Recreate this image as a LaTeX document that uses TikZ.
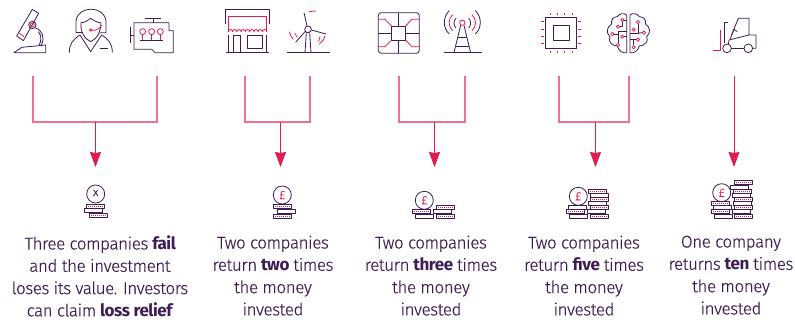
\documentclass[tikz,border=0pt]{standalone}
\usepackage{fontspec}
\setmainfont{Fira Sans}[UprightFont=*-Light,UprightFeatures={FakeBold=.2},BoldFont=*-Bold,LetterSpace=-2.5]
\usetikzlibrary{arrows.meta, positioning, calc}
\definecolor{plum}{RGB}{62,28,84}
\definecolor{rosso}{RGB}{227,28,79}
\definecolor{rosa}{RGB}{240,112,142}
\tikzset{
  icon/.style={draw=plum, line width=.8pt, line join=round},
  hot/.style={draw=rosso, line width=.8pt, line join=round},
  link/.style={draw=rosa, line width=1.3pt},
  stem/.style={draw=rosso, line width=.9pt, -{Stealth[length=15pt,width=11pt,inset=1pt]}},
  caption/.style={text=plum, align=center, anchor=north, inner sep=0pt, font=\fontsize{17}{22.3}\selectfont},
  zoomed/.style={x=.3333pt, y=-.3333pt},
  redbar/.pic={\draw[icon] (-9,-2) rectangle (9,2); \draw[hot, line width=.7pt, dash pattern=on .9pt off 1.1pt] (-7.5,0) -- (7.5,0);},
  plainbar/.pic={\draw[icon] (-9,-2) rectangle (9,2);},
  coin/.pic={\draw[icon] (0,0) circle (9);},
  sign/.style={text=rosso, font=\fontsize{12}{12}\selectfont}
}
\begin{document}
\begin{tikzpicture}[x=1pt, y=-1pt]
\useasboundingbox (0,0) rectangle (795,320);

\coordinate (L1) at (33,76);
\coordinate (R1) at (157,76);
\coordinate (J1) at (95.5,122);
\coordinate (A1) at (95.5,167);
\coordinate (L2) at (245,76);
\coordinate (R2) at (310,76);
\coordinate (J2) at (280.5,122);
\coordinate (A2) at (280.5,167);
\coordinate (L3) at (399,76);
\coordinate (R3) at (465,76);
\coordinate (J3) at (434.5,122);
\coordinate (A3) at (434.5,167);
\coordinate (L4) at (559,76);
\coordinate (R4) at (629,76);
\coordinate (J4) at (595.5,122);
\coordinate (A4) at (595.5,167);
\coordinate (J5) at (734,76);
\coordinate (A5) at (734,167);

\draw[link] (L1) |- (J1) -| (R1);
\draw[link] (L2) |- (J2) -| (R2);
\draw[link] (L3) |- (J3) -| (R3);
\draw[link] (L4) |- (J4) -| (R4);
\draw[stem] (J1) -- (A1);
\draw[stem] (J2) -- (A2);
\draw[stem] (J3) -- (A3);
\draw[stem] (J4) -- (A4);
\draw[stem] (J5) -- (A5);

\begin{scope}[zoomed]
\draw[icon] (97,28) -- (116,40) -- (70,122) -- (50,108) -- cycle;
\draw[hot] (58,100) -- (72,110);
\draw[hot] (97,75) circle (6);
\draw[icon] (97,75) circle (11);
\draw[icon] (106,84) .. controls (128,90) and (135,115) .. (124,135);
\draw[icon] (115,95) .. controls (124,105) and (125,120) .. (118,135);
\draw[icon] (42,158) -- (65,142) -- (137,135) -- (137,158) -- cycle;
\draw[icon] (228,98) -- (228,65) .. controls (230,15) and (316,15) .. (318,65) -- (318,98) -- (300,98);
\draw[icon] (228,98) -- (246,98);
\draw[icon] (243,68) .. controls (255,68) and (262,62) .. (272,55) .. controls (282,62) and (292,68) .. (302,68);
\draw[icon] (243,68) .. controls (240,95) and (255,118) .. (272,125) .. controls (290,118) and (304,95) .. (302,68);
\draw[icon] (208,158) .. controls (208,130) and (220,118) .. (240,105) -- (272,155) -- (305,105) .. controls (325,118) and (337,130) .. (337,158);
\draw[icon] (300,145) -- (325,145);
\draw[hot] (272,90) circle (4);
\draw[hot] (276,91) .. controls (290,92) and (300,85) .. (305,75);
\draw[icon] (402,68) -- (507,68) -- (507,92) -- (520,92) -- (520,158) -- (465,158) -- (455,148) -- (402,148) -- cycle;
\draw[icon] (435,55) -- (483,55);
\draw[icon] (459,55) -- (459,68);
\draw[icon] (390,80) -- (390,130);
\draw[icon] (390,105) -- (402,105);
\draw[icon] (420,120) -- (490,120);
\draw[hot] (428,95) circle (9);
\draw[hot] (455,95) circle (9);
\draw[hot] (481,95) circle (9);
\draw[hot] (428,104) -- (428,120);
\draw[hot] (455,104) -- (455,120);
\draw[hot] (481,104) -- (481,120);
\end{scope}

\begin{scope}[shift={(210,0)}, zoomed]
\draw[icon] (47,72) -- (47,28) -- (178,28) -- (178,72);
\draw[hot] (55,95) -- (55,50) -- (170,50) -- (170,95);
\draw[hot] (55,95) arc (180:360:6.4) arc (180:360:6.4) arc (180:360:6.4) arc (180:360:6.4) arc (180:360:6.4) arc (180:360:6.4) arc (180:360:6.4) arc (180:360:6.4) arc (180:360:6.4);
\draw[icon] (55,105) -- (55,158);
\draw[icon] (170,105) -- (170,158);
\draw[icon] (70,158) -- (70,106) -- (90,106) -- (90,158);
\draw[icon] (112,107) rectangle (157,145);
\draw[icon] (48,158) -- (178,158);
\draw[icon] (230,158) -- (360,158);
\draw[icon] (294,88) circle (10);
\draw[icon] (289,97) -- (285,158);
\draw[icon] (299,97) -- (303,158);
\draw[icon] (291,78) -- (282,38);
\draw[icon] (304,90) -- (348,102);
\draw[icon] (286,94) -- (257,127);
\draw[hot] (296,36) .. controls (303,34) and (310,33) .. (318,33);
\draw[hot] (238,95) .. controls (240,104) and (244,112) .. (250,118);
\draw[hot] (255,100) -- (262,112);
\draw[hot] (345,108) .. controls (343,118) and (336,127) .. (328,132);
\draw[hot] (330,110) -- (326,125);
\draw[icon, rounded corners=3pt] (505,38) rectangle (628,160);
\draw[icon] (545,78) rectangle (587,120);
\draw[icon] (566,38) -- (566,78);
\draw[icon] (566,120) -- (566,160);
\draw[icon] (505,100) -- (545,100);
\draw[icon] (587,100) -- (628,100);
\draw[hot] (505,58) -- (525,58) -- (545,78);
\draw[hot] (628,58) -- (605,58) -- (587,78);
\draw[hot] (505,140) -- (525,140) -- (545,120);
\draw[hot] (628,140) -- (605,140) -- (587,120);
\draw[hot] (757,68) circle (8);
\draw[icon] (752,76) -- (732,158);
\draw[icon] (762,76) -- (782,158);
\draw[icon] (745,112) -- (770,112);
\draw[icon] (738,140) -- (776,140);
\draw[icon] (702,158) -- (815,158);
\draw[icon] (718,32) .. controls (698,50) and (698,85) .. (718,102);
\draw[hot] (728,44) .. controls (714,56) and (714,80) .. (728,92);
\draw[icon] (738,55) .. controls (730,62) and (730,76) .. (738,84);
\draw[icon] (796,32) .. controls (816,50) and (816,85) .. (796,102);
\draw[hot] (786,44) .. controls (800,56) and (800,80) .. (786,92);
\draw[icon] (776,55) .. controls (784,62) and (784,76) .. (776,84);
\end{scope}

\begin{scope}[shift={(530,0)}, zoomed]
\draw[icon] (46,53) rectangle (138,145);
\draw[icon] (69,75) rectangle (117,121);
\foreach \t in {60,82,104,126} {
  \draw[hot] (\t,38) -- (\t,46);
  \draw[hot] (\t,152) -- (\t,160);
}
\foreach \t in {65,87,109,131} {
  \draw[hot] (32,\t) -- (41,\t);
  \draw[hot] (145,\t) -- (154,\t);
}
\draw[icon] (290,158) -- (290,45) .. controls (282,38) and (268,40) .. (262,50) .. controls (250,50) and (242,60) .. (245,72) .. controls (232,80) and (226,98) .. (240,110) .. controls (232,125) and (248,138) .. (262,138) .. controls (265,152) and (280,162) .. (290,158);
\draw[icon] (300,158) -- (300,45) .. controls (308,38) and (322,40) .. (328,50) .. controls (340,50) and (350,60) .. (346,72) .. controls (360,80) and (364,98) .. (350,110) .. controls (358,125) and (342,138) .. (328,138) .. controls (325,152) and (310,162) .. (300,158);
\draw[icon] (290,95) -- (265,95) -- (265,130);
\draw[icon] (253,102) -- (265,102);
\draw[icon] (290,60) -- (282,60);
\draw[icon] (270,80) -- (277,80) -- (277,66);
\draw[icon] (283,110) -- (290,110);
\draw[icon] (300,100) -- (324,100) -- (324,72);
\draw[icon] (324,100) -- (337,98);
\draw[icon] (300,119) -- (318,119);
\draw[icon] (311,136) -- (311,119);
\foreach \a/\b in {277/60,264/80,247/102,277/110,264/135,324/66,311/89,342/98,324/119,311/142}
  \draw[hot, fill=white] (\a,\b) circle (5);
\end{scope}

\begin{scope}[shift={(550,0)}, zoomed]
\draw[hot] (510,90) -- (510,150) -- (488,150);
\draw[icon] (531,145) circle (13);
\draw[icon] (595,145) circle (13);
\draw[icon] (544,145) -- (582,145);
\draw[icon] (608,145) -- (618,145) -- (618,105) -- (597,105) -- (597,55) -- (565,55) -- (545,105);
\draw[icon] (523,130) -- (523,68) -- (535,68);
\draw[icon] (535,132) -- (537,120) -- (597,105);
\draw[icon] (540,118) -- (552,88) -- (562,95);
\end{scope}

\pic at (95.7,194) {coin};
\node[sign, text=plum] (X1) at (95.7,193) {x};
\pic at (95.7,206) {redbar};
\pic at (93.7,210.3) {plainbar};
\pic at (98.7,215) {redbar};

\pic at (282.3,195) {coin};
\node[sign] (P2) at (282.3,195) {£};
\pic at (282.2,206.7) {redbar};
\pic at (286,211) {plainbar};
\pic at (282,216.5) {redbar};

\pic at (424.3,200.3) {coin};
\node[sign] (P3) at (424.3,200.3) {£};
\foreach \a/\b in {421.7/211.3,445.6/207.3,445.6/216}
  \pic at (\a,\b) {redbar};
\foreach \a/\b in {424.3/216,442.5/211.5}
  \pic at (\a,\b) {plainbar};

\pic at (578.3,196.3) {coin};
\node[sign] (P4) at (578.3,196.3) {£};
\foreach \a/\b in {575.3/211.5,597.5/191.3,599/199.3,599/207.3,599/216}
  \pic at (\a,\b) {redbar};
\foreach \a/\b in {577/207.3,578/216,599.3/195.3,597.5/203,596.7/211.5}
  \pic at (\a,\b) {plainbar};

\pic at (721.7,192.7) {coin};
\node[sign] (P5) at (721.7,192.7) {£};
\foreach \a/\b in {720.3/203.3,720.3/211.5,743.5/182.7,742.3/191.5,743.5/199.3,743.5/207.3,743.5/216}
  \pic at (\a,\b) {redbar};
\foreach \a/\b in {722/207.3,723.3/216,739.7/187,741/195.3,742.3/203,741/211.5}
  \pic at (\a,\b) {plainbar};

\node[caption] (T1) at (100,235.5) {Three companies \textbf{fail}\\and the investment\\loses its value. Investors\\can claim \textbf{loss relief}};
\node[caption] (T2) at (273,235.5) {Two companies\\return \textbf{two} times\\the money\\invested};
\node[caption] (T3) at (431,235.5) {Two companies\\return \textbf{three} times\\the money\\invested};
\node[caption] (T4) at (584,235.5) {Two companies\\return \textbf{five} times\\the money\\invested};
\node[caption] (T5) at (731,235.5) {One company\\returns \textbf{ten} times\\the money\\invested};
\end{tikzpicture}
\end{document}
